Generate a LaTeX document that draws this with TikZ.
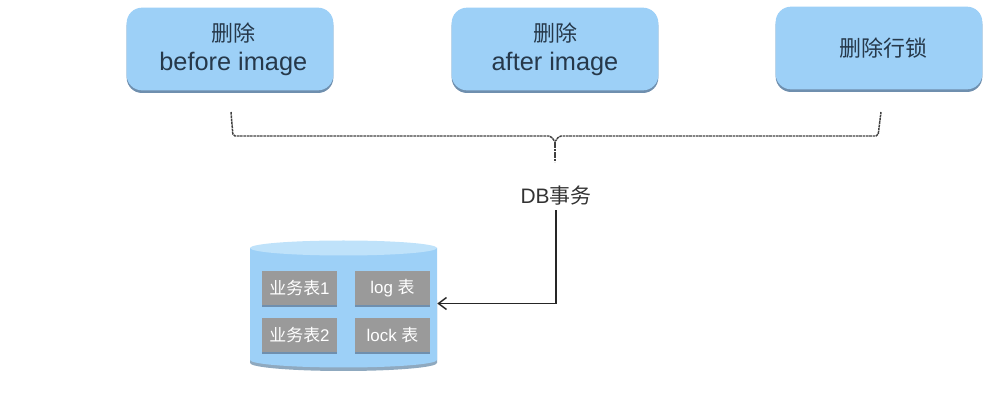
\documentclass[tikz,border=0pt]{standalone}
\usepackage{fontspec}
\setmainfont{Liberation Sans}
\newfontfamily\cjk{Noto Sans CJK SC}
\usetikzlibrary{shadows,arrows.meta}
\definecolor{boxblue}{HTML}{9DD0F7}
\definecolor{topblue}{HTML}{BFE2FA}
\definecolor{edgeblue}{HTML}{6F8FAE}
\definecolor{rimblue}{HTML}{8FA9BF}
\definecolor{tablegrey}{HTML}{9A9A9A}
\definecolor{inkdark}{HTML}{26384A}
\newcommand{\bigcjk}[1]{{\cjk\fontsize{16.5}{22}\selectfont #1}}
\tikzset{
    stepbox/.style={shape=rectangle,rounded corners=11.5pt,fill=boxblue,minimum width=155pt,minimum height=62pt,
        inner sep=0pt,align=center,text=inkdark,font=\fontsize{19}{22}\selectfont,
        drop shadow={shadow xshift=0pt,shadow yshift=-2pt,fill=edgeblue,opacity=1}},
    tablebox/.style={shape=rectangle,fill=tablegrey,minimum width=56pt,minimum height=25pt,inner sep=0pt,
        text=white,font=\fontsize{12.7}{15}\selectfont,
        drop shadow={shadow xshift=0pt,shadow yshift=-1.5pt,fill=edgeblue,opacity=1}},
    bracket/.style={draw=black!75,dash pattern=on 2pt off 0.5pt,line width=1.1pt,rounded corners=1.5pt},
    link/.style={draw=black!85,line width=1.1pt}
}
\begin{document}
\begin{tikzpicture}[x=0.75pt,y=-0.75pt]
    \useasboundingbox (0,0) rectangle (997,413);

    \node[stepbox] (before) at (230,49) {\hspace*{5pt}\bigcjk{删除}\\\hspace*{5pt}before image};
    \node[stepbox] (after) at (555,49) {\bigcjk{删除}\\after image};
    \node[stepbox] (lock) at (879,48) {\hspace*{6pt}\bigcjk{删除行锁}};

    \coordinate (left) at (231,112);
    \coordinate (leftc) at (233,136);
    \coordinate (midl) at (551,136);
    \coordinate (midr) at (559,136);
    \coordinate (mid) at (555,142);
    \coordinate (tip) at (555,162);
    \coordinate (rightc) at (878,136);
    \coordinate (right) at (881,112);

    \draw[bracket] (left) -- (leftc) -- (midl) -- (mid) -- (midr) -- (rightc) -- (right);
    \draw[bracket] (mid) -- (tip);

    \node[font=\fontsize{15.7}{18}\selectfont,text=black!80] (txn) at (556,196) {DB{\cjk 事务}};

    % storage drum
    \fill[rimblue] (250,300) -- (250,363) arc[start angle=180,end angle=0,x radius=93.5,y radius=8] -- (437,300) -- cycle;
    \fill[boxblue] (250,248) -- (250,360) arc[start angle=180,end angle=0,x radius=93.5,y radius=7.5] -- (437,248) -- cycle;
    \fill[topblue] (343.5,248) ellipse[x radius=93.5,y radius=7.5];
    \node[minimum width=140.25pt,minimum height=95pt,inner sep=0pt] (store) at (343.5,303.5) {};

    \node[tablebox] (t1) at (299.5,288) {{\cjk 业务表}1};
    \node[tablebox] (t2) at (392.5,288) {log {\cjk 表}};
    \node[tablebox] (t3) at (299.5,335) {{\cjk 业务表}2};
    \node[tablebox] (t4) at (392.5,335) {lock {\cjk 表}};

    \draw[link,-{Straight Barb[length=6pt,width=9pt]}] (txn.south) |- (store.east);
\end{tikzpicture}
\end{document}
